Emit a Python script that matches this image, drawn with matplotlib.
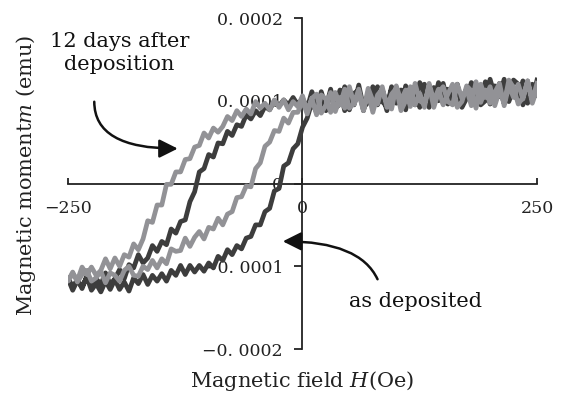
import numpy as np
import matplotlib
matplotlib.use("Agg")
import matplotlib.pyplot as plt

plt.rcParams['font.family'] = ['DejaVu Serif']
plt.rcParams['mathtext.fontset'] = 'dejavuserif'

# field sweep (Oe): 250 -> -250, then back -250 -> 250, 5 Oe steps
H_down = np.linspace(250, -250, 101)
H_up = H_down[::-1]

# magnetic moment in micro-emu, as deposited
dep_down = [125, 101, 117, 95, 120, 125, 104, 97, 121, 106, 126, 100, 95, 116, 122,
            103, 92, 119, 112, 96, 121, 100, 116, 92, 111, 122, 95, 100, 118, 92,
            112, 115, 88, 108, 95, 117, 98, 92, 119, 95, 107, 88, 113, 97, 110,
            88, 108, 95, 111, 91, 103, 95, 104, 95, 101, 94, 100, 89, 93, 82,
            88, 78, 83, 69, 71, 58, 63, 48, 49, 32, 35, 18, 14, -10, -22,
            -44, -46, -60, -55, -74, -70, -82, -75, -90, -96, -86, -102, -98, -115, -104,
            -115, -122, -108, -122, -115, -125, -112, -127, -116, -125, -114]
dep_up = [-115, -129, -117, -125, -113, -129, -121, -131, -118, -128, -116, -128, -119, -130, -114,
          -121, -110, -122, -111, -118, -109, -118, -105, -111, -99, -110, -99, -107, -99, -106,
          -96, -102, -88, -93, -80, -86, -75, -79, -66, -64, -50, -50, -34, -30, -9,
          -6, 21, 25, 42, 48, 68, 79, 98, 86, 111, 92, 114, 91, 96, 117,
          89, 109, 113, 88, 108, 94, 117, 99, 93, 117, 97, 113, 89, 116, 109,
          92, 120, 101, 97, 122, 96, 114, 100, 120, 94, 113, 119, 99, 105, 123,
          96, 118, 105, 126, 99, 114, 104, 124, 97, 120, 107]

# magnetic moment in micro-emu, 12 days after deposition
aged_down = [121, 101, 124, 104, 96, 116, 125, 97, 112, 94, 117, 104, 120, 91, 112,
             118, 99, 92, 120, 108, 95, 114, 100, 121, 92, 109, 95, 117, 100, 88,
             115, 108, 92, 117, 96, 100, 115, 88, 108, 96, 117, 91, 104, 87, 110,
             95, 85, 108, 103, 87, 106, 93, 99, 89, 101, 92, 101, 89, 97, 91,
             99, 84, 90, 81, 88, 76, 81, 69, 62, 67, 55, 61, 46, 44, 30,
             29, 14, 14, -1, -1, -26, -26, -47, -45, -67, -80, -73, -89, -86, -100,
             -90, -103, -91, -105, -111, -101, -110, -101, -117, -109, -118]
aged_up = [-118, -107, -119, -110, -105, -118, -114, -106, -120, -108, -111, -118, -105, -100, -111,
           -112, -100, -104, -93, -102, -91, -97, -79, -82, -81, -66, -76, -65, -58, -67,
           -53, -55, -42, -50, -37, -34, -17, -16, -3, -4, 18, 25, 45, 50, 64,
           63, 79, 73, 86, 86, 100, 84, 103, 83, 107, 102, 86, 110, 95, 114,
           91, 97, 114, 90, 109, 86, 107, 114, 96, 90, 118, 100, 113, 93, 121,
           100, 96, 118, 92, 110, 117, 99, 95, 120, 103, 114, 94, 123, 98, 113,
           97, 110, 121, 94, 118, 104, 120, 102, 124, 97, 114]

x_ticks = [-250, 0, 250]
x_tick_labels = ['\u2212250', '0', '250']
y_ticks = [-0.0002, -0.0001, 0, 0.0001, 0.0002]
y_tick_labels = ['\u22120. 0002', '\u22120. 0001', '0', '0. 0001', '0. 0002']

fig = plt.figure(figsize=(5.62, 3.94), dpi=100)
ax = fig.add_axes([0.121, 0.1142, 0.8345, 0.8401])

H_loop = np.concatenate([H_down, H_up])
m_dep = np.array(dep_down + dep_up) * 1e-6
m_aged = np.array(aged_down + aged_up) * 1e-6

ax.plot(H_loop, m_dep, color='#3d3d3d', lw=3.4, zorder=3, solid_joinstyle='round')
ax.plot(H_loop, m_aged, color='#929296', lw=3.4, zorder=4, solid_joinstyle='round')

ax.set_xlim(-250, 250)
ax.set_ylim(-0.0002, 0.0002)

# axes crossing at the origin
ax.spines['left'].set_position('zero')
ax.spines['bottom'].set_position('zero')
ax.spines['right'].set_visible(False)
ax.spines['top'].set_visible(False)
for s in ('left', 'bottom'):
    ax.spines[s].set_linewidth(1.3)
    ax.spines[s].set_color('#222222')

ax.set_xticks(x_ticks)
ax.set_xticklabels(x_tick_labels)
ax.set_yticks(y_ticks)
ax.set_yticklabels(y_tick_labels)
ax.tick_params(axis='x', direction='in', length=4, width=1.3, pad=12,
               labelsize=12.5, colors='#222222')
ax.tick_params(axis='y', direction='out', length=6, width=1.3, pad=8,
               labelsize=12.5, colors='#222222')

fig.text(0.537, 0.033, 'Magnetic field $H$(Oe)', ha='center', va='center',
         fontsize=15, color='#222222')
fig.text(0.046, 0.555, 'Magnetic moment$m$ (emu)', ha='center', va='center',
         rotation=90, fontsize=15, color='#222222')

# labels with curved arrows
arrow_kw = dict(arrowstyle='-|>,head_length=0.7,head_width=0.35', color='#111111',
                lw=1.8, mutation_scale=16, shrinkA=0, shrinkB=0)
ax.text(-195, 0.000158, '12 days after\ndeposition', ha='center', va='center',
        fontsize=15, linespacing=1.25, color='#111111')
ax.annotate('', xy=(-133, 0.0000422), xytext=(-222, 0.0000988),
            arrowprops=dict(connectionstyle='angle3,angleA=90,angleB=0', **arrow_kw))
ax.text(121, -0.000142, 'as deposited', ha='center', va='center',
        fontsize=15, color='#111111')
ax.annotate('', xy=(-21, -0.0000699), xytext=(80, -0.0001157),
            arrowprops=dict(connectionstyle='angle3,angleA=115,angleB=0', **arrow_kw))

fig.savefig('out.png', dpi=100)
